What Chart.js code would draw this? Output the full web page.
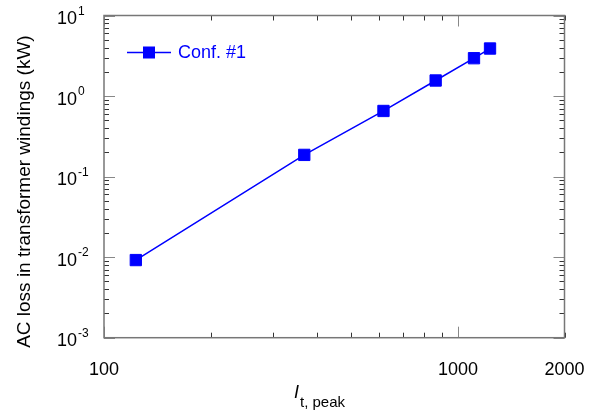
<!DOCTYPE html>
<html>
<head>
<meta charset="utf-8">
<script src="https://cdn.jsdelivr.net/npm/chart.js@4/dist/chart.umd.min.js"></script>
<style>
  html, body { margin: 0; padding: 0; background: #fff; }
</style>
</head>
<body>
<canvas id="chart" width="602" height="416"></canvas>
<script>
// peak transport current (A) vs AC loss (kW)
const currents = [123, 368, 616, 865, 1110, 1232];
const losses = [0.0092, 0.186, 0.653, 1.56, 2.95, 3.89];
const seriesName = 'Conf. #1';
const xTickLabels = [100, 1000, 2000];
const yExponents = [-3, -2, -1, 0, 1];

const FONT = '"Liberation Sans", Arial, sans-serif';
const BLUE = '#0000ff';

// mantissa 1..9 for each decade in range
function logTicks (min, max) {
  const out = [];
  for (let d = Math.floor(Math.log10(min)); d <= Math.ceil(Math.log10(max)); d++) {
    for (let m = 1; m < 10; m++) {
      const v = m * Math.pow(10, d);
      if (v >= min * 0.999 && v <= max * 1.001) out.push({ v: v, major: m === 1 });
    }
  }
  return out;
}

const framePlugin = {
  id: 'frame',
  afterDraw (chart) {
    const { ctx, chartArea: a } = chart;
    const x = chart.scales.x, y = chart.scales.y;
    ctx.save();

    // ticks on all four sides, pointing in
    ctx.lineWidth = 1;
    logTicks(x.min, x.max).forEach((t) => {
      const px = Math.round(x.getPixelForValue(t.v)) + 0.5;
      const len = t.major ? 11 : 5;
      ctx.strokeStyle = t.major ? '#888' : '#333';
      ctx.beginPath();
      ctx.moveTo(px, a.bottom); ctx.lineTo(px, a.bottom - len);
      ctx.moveTo(px, a.top); ctx.lineTo(px, a.top + len);
      ctx.stroke();
    });
    logTicks(y.min, y.max).forEach((t) => {
      const py = Math.round(y.getPixelForValue(t.v)) + 0.5;
      const len = t.major ? 11 : 5;
      ctx.strokeStyle = t.major ? '#888' : '#333';
      ctx.beginPath();
      ctx.moveTo(a.left, py); ctx.lineTo(a.left + len, py);
      ctx.moveTo(a.right, py); ctx.lineTo(a.right - len, py);
      ctx.stroke();
    });

    // frame
    ctx.strokeStyle = '#777';
    ctx.lineWidth = 1.5;
    ctx.strokeRect(a.left, a.top, a.right - a.left, a.bottom - a.top);

    // x tick labels
    ctx.fillStyle = '#000';
    ctx.font = '18px ' + FONT;
    ctx.textAlign = 'center';
    ctx.textBaseline = 'alphabetic';
    xTickLabels.forEach((v) => {
      ctx.fillText(String(v), x.getPixelForValue(v), 375);
    });

    // y tick labels 10^n
    yExponents.forEach((e) => {
      const py = y.getPixelForValue(Math.pow(10, e));
      ctx.font = '18px ' + FONT;
      ctx.textAlign = 'right';
      ctx.fillText('10', 77, py + 8.5);
      ctx.font = '12px ' + FONT;
      ctx.textAlign = 'left';
      ctx.fillText(e < 0 ? '-' + (-e) : String(e), 78, py - 1);
    });

    // y title
    ctx.save();
    ctx.translate(25, (a.top + a.bottom) / 2 + 15);
    ctx.rotate(-Math.PI / 2);
    ctx.font = '19px ' + FONT;
    ctx.textAlign = 'center';
    ctx.textBaseline = 'middle';
    ctx.fillText('AC loss in transformer windings (kW)', 0, 0);
    ctx.restore();

    // x title: I_t, peak
    ctx.textAlign = 'left';
    ctx.font = 'italic 18px ' + FONT;
    ctx.fillText('I', 294, 398);
    const iw = ctx.measureText('I').width;
    ctx.font = '15px ' + FONT;
    ctx.fillText('t, peak', 294 + iw + 1, 407);

    // legend
    const ds = chart.data.datasets[0];
    const ly = 52.5;
    ctx.strokeStyle = ds.borderColor;
    ctx.lineWidth = 1.5;
    ctx.beginPath();
    ctx.moveTo(127, ly); ctx.lineTo(171, ly);
    ctx.stroke();
    ctx.fillStyle = ds.pointBackgroundColor;
    ctx.fillRect(143, ly - 6, 12, 12);
    ctx.fillStyle = BLUE;
    ctx.font = '18px ' + FONT;
    ctx.textBaseline = 'middle';
    ctx.fillText(ds.label, 178, ly + 1);

    ctx.restore();
  }
};

new Chart(document.getElementById('chart'), {
  type: 'line',
  data: {
    datasets: [{
      label: seriesName,
      data: currents.map((c, i) => ({ x: c, y: losses[i] })),
      borderColor: BLUE,
      backgroundColor: BLUE,
      pointBackgroundColor: BLUE,
      pointBorderColor: BLUE,
      borderWidth: 1.5,
      pointStyle: 'rect',
      pointRadius: 8,
      pointBorderWidth: 1,
      tension: 0
    }]
  },
  options: {
    responsive: false,
    animation: false,
    layout: { padding: { left: 96, right: 37.5, top: 15.5, bottom: 70.3 } },
    plugins: { legend: { display: false }, tooltip: { enabled: false } },
    scales: {
      x: {
        type: 'logarithmic', min: 100, max: 2000,
        grid: { display: false }, border: { display: false }, ticks: { display: false }
      },
      y: {
        type: 'logarithmic', min: 0.001, max: 10,
        grid: { display: false }, border: { display: false }, ticks: { display: false }
      }
    }
  },
  plugins: [framePlugin]
});
</script>
</body>
</html>
